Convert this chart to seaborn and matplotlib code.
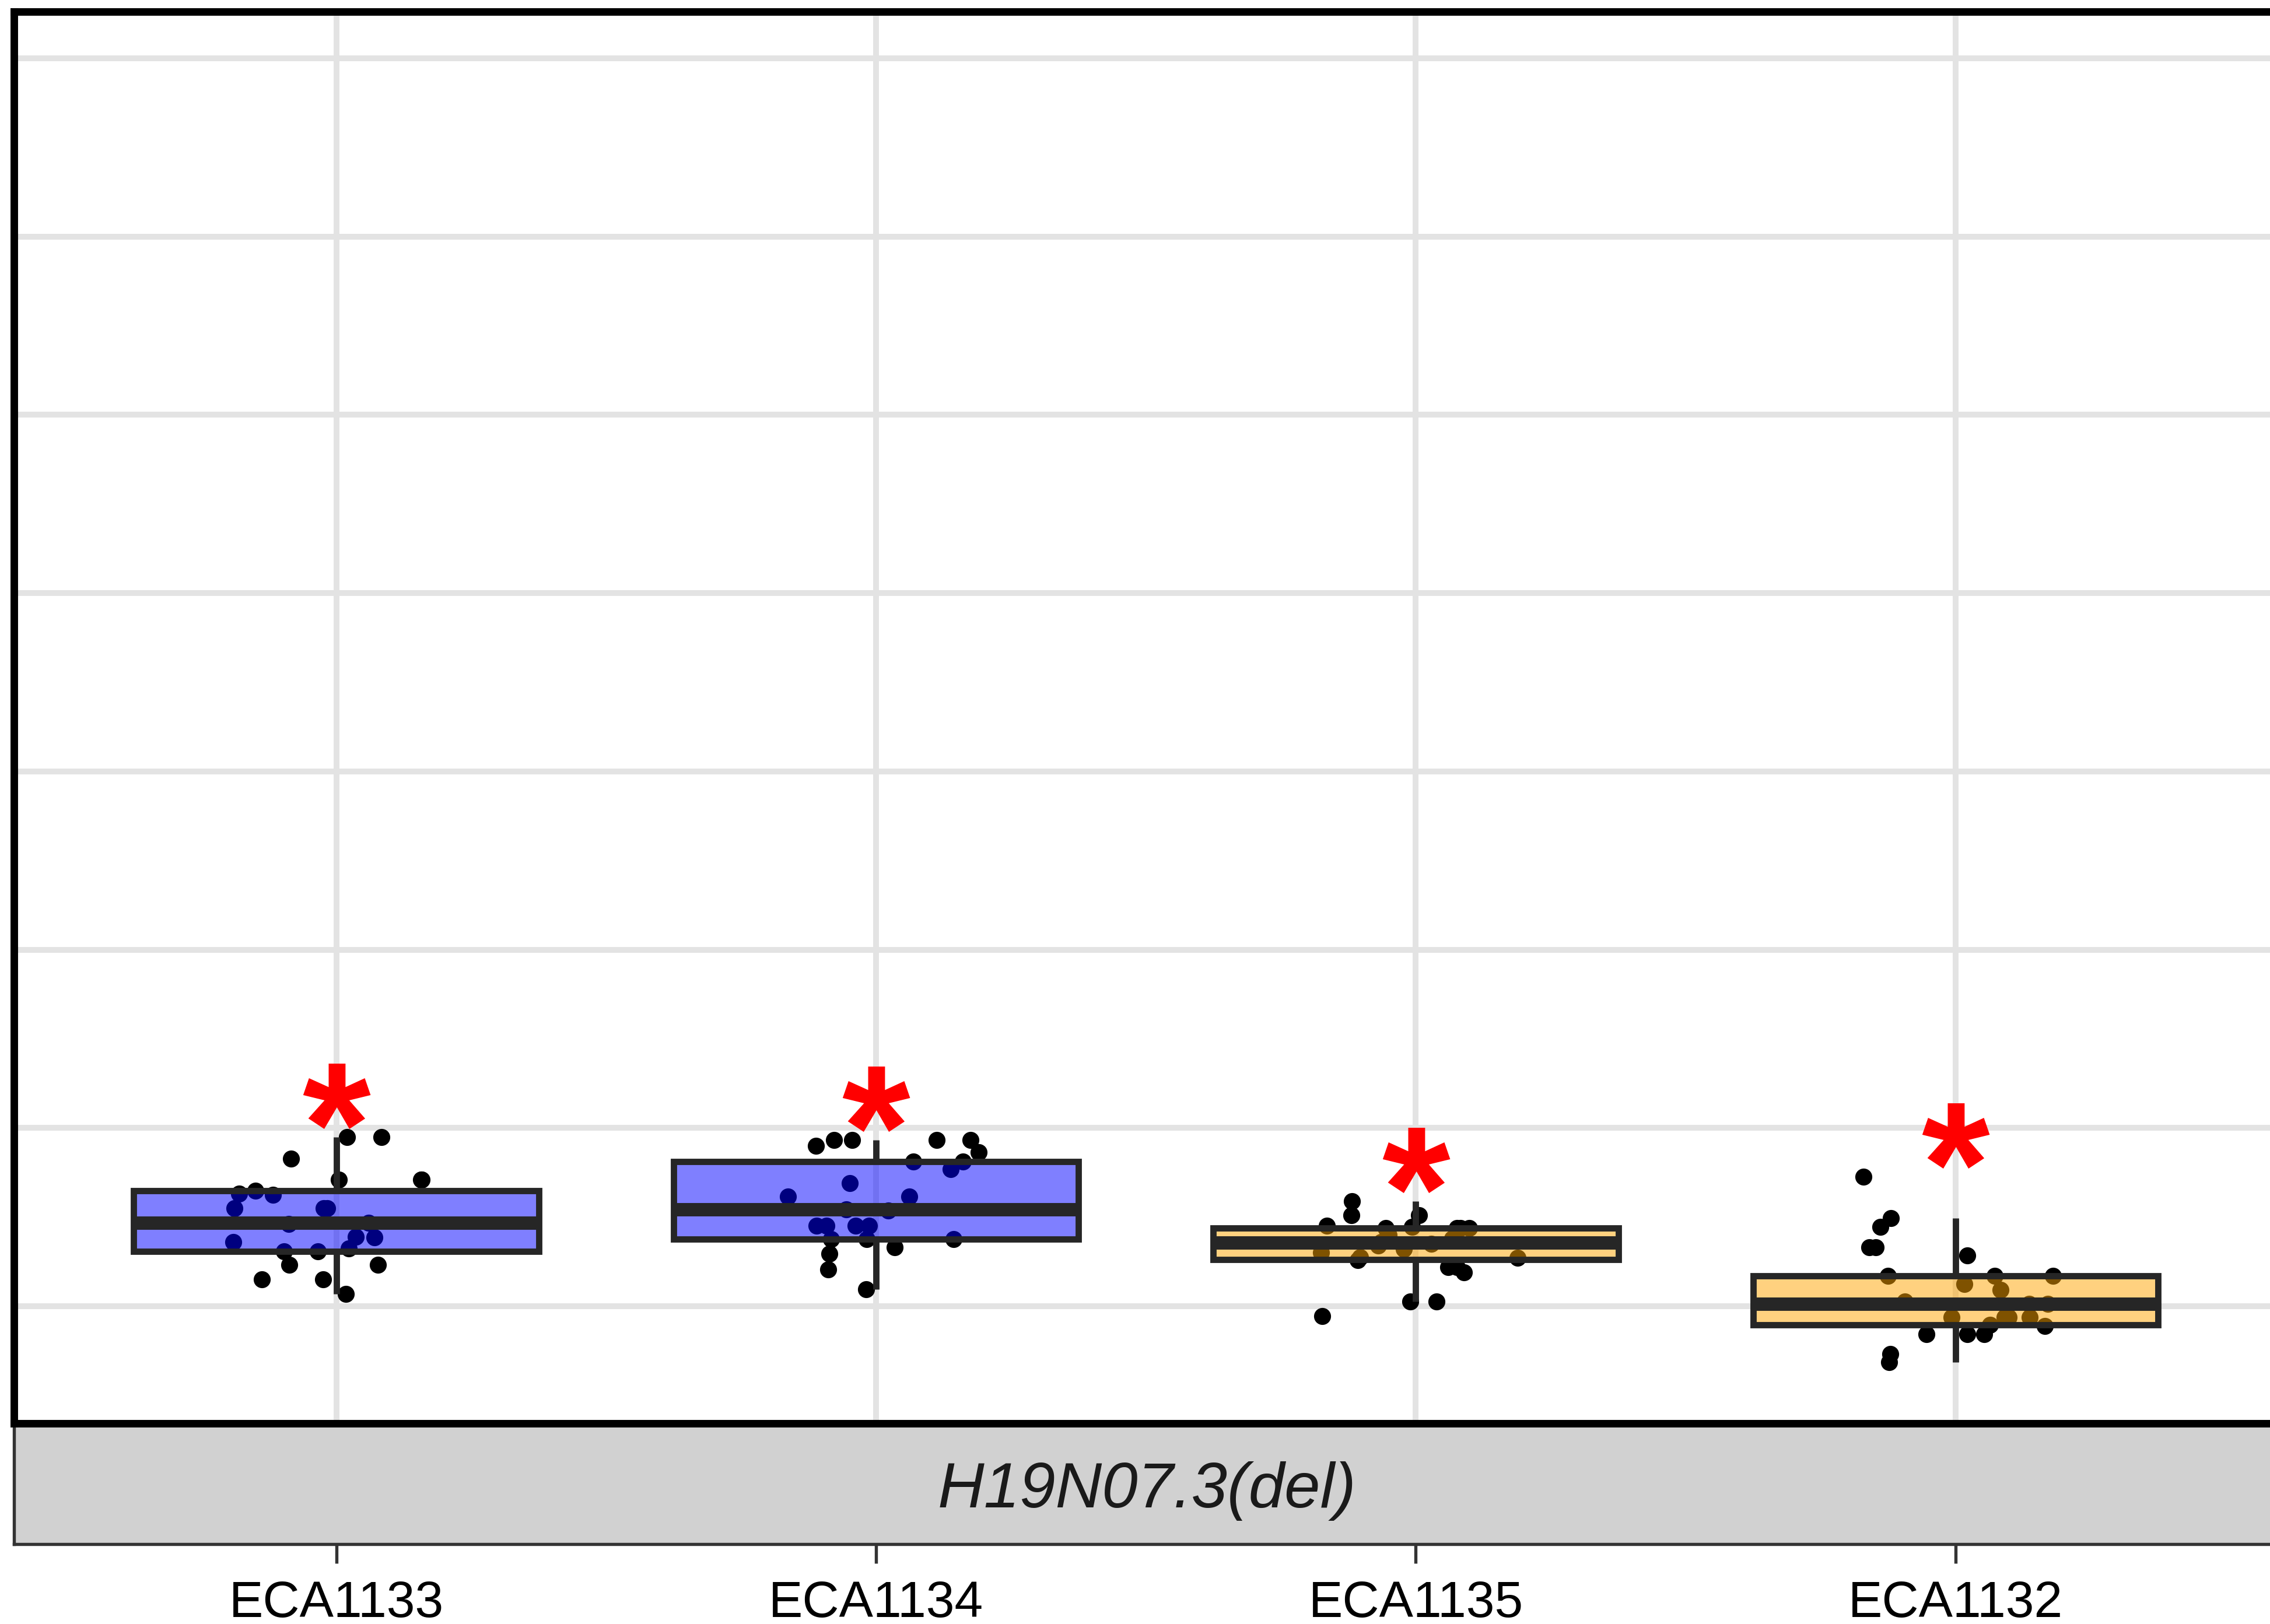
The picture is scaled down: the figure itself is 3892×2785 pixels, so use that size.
import numpy as np
import pandas as pd
import matplotlib
matplotlib.use("Agg")
import matplotlib.pyplot as plt
import seaborn as sns

# Values (y axis labels are cropped away)
strains = ["ECA1133", "ECA1134", "ECA1135", "ECA1132"]
eca1133 = [0.9475, 0.9475, 0.829, 0.71, 0.71, 0.71, 0.648, 0.625, 0.63, 0.55,
           0.55, 0.55, 0.469, 0.46, 0.3875, 0.39, 0.36, 0.325, 0.306, 0.306,
           0.231, 0.231, 0.15, 0.15, 0.069]
eca1134 = [0.931, 0.931, 0.9, 0.931, 0.931, 0.8625, 0.8125, 0.8125, 0.769, 0.691,
           0.615, 0.615, 0.535, 0.544, 0.4525, 0.4525, 0.4525, 0.4525, 0.375, 0.375,
           0.375, 0.331, 0.294, 0.206, 0.094]
eca1135 = [0.5875, 0.51, 0.51, 0.45, 0.445, 0.4375, 0.4375, 0.4375, 0.4375, 0.43,
           0.40, 0.38, 0.36, 0.35, 0.34, 0.32, 0.30, 0.275, 0.27, 0.26,
           0.22, 0.22, 0.19, 0.025, 0.025, -0.056]
eca1132 = [0.7275, 0.494, 0.444, 0.331, 0.329, 0.285, 0.169, 0.169, 0.169, 0.125,
           0.09, 0.025, 0.0125, 0.0125, -0.0625, -0.0625, -0.0625, -0.0625, -0.105, -0.1125,
           -0.156, -0.156, -0.156, -0.269, -0.3125]
strip_label = "H19N07.3(del)"

groups = {"ECA1133": eca1133, "ECA1134": eca1134, "ECA1135": eca1135, "ECA1132": eca1132}
df = pd.DataFrame([(k, v) for k, vals in groups.items() for v in vals], columns=["strain", "value"])

fills = {"ECA1133": "blue", "ECA1134": "blue", "ECA1135": "orange", "ECA1132": "orange"}

sns.set_style("white")
plt.rcParams["font.family"] = ["Liberation Sans", "DejaVu Sans"]

fig = plt.figure(figsize=(3892 / 300, 2785 / 300), dpi=300)
ax = fig.add_axes([0.00617, 0.12352, 0.998, 0.86912])
strip = fig.add_axes([0.00617, 0.04919, 0.998, 0.07433], sharex=ax)
ax.set_zorder(2)
strip.set_zorder(1)

# jittered points under the boxes
np.random.seed(3)
sns.stripplot(data=df, x="strain", y="value", order=strains, color="black",
              size=7, jitter=0.2, ax=ax, zorder=2)

sns.boxplot(data=df, x="strain", y="value", order=strains, hue="strain",
            palette=fills, saturation=1, width=0.75, linecolor="#262626",
            linewidth=2.6, showfliers=False, showcaps=False,
            medianprops=dict(linewidth=5.5), legend=False, ax=ax)

for p in ax.patches:
    fc = p.get_facecolor()
    p.set_facecolor((fc[0], fc[1], fc[2], 0.5))
    p.set_zorder(3)
for l in ax.lines:
    l.set_zorder(4)

# significance stars above each group
for i, s in enumerate(strains):
    ax.text(i, max(groups[s]) - 0.01, "*", color="red", fontsize=72,
            fontweight="bold", ha="center", va="center", zorder=5)

ax.set_xlim(-0.597, 3.6)
ax.set_ylim(-0.6575, 7.26)
ax.set_yticks(range(0, 8))
ax.set_xticks(range(len(strains)))
ax.grid(True, color="#E3E3E3", linewidth=2.4)
ax.set_axisbelow(True)
ax.tick_params(length=0, labelleft=False, labelbottom=False)
ax.set_xlabel("")
ax.set_ylabel("")
for sp in ax.spines.values():
    sp.set_visible(True)
    sp.set_color("black")
    sp.set_linewidth(3.1)

# facet strip below the panel
strip.set_facecolor("#D1D1D1")
strip.set_yticks([])
strip.set_xticks(range(len(strains)))
strip.set_xticklabels(strains)
strip.tick_params(axis="x", bottom=True, length=7.9, width=1.3, color="#333333",
                  pad=7, labelsize=21, labelcolor="black")
for sp in strip.spines.values():
    sp.set_visible(True)
    sp.set_color("#333333")
    sp.set_linewidth(1.3)
strip.text(0.5, 0.44, strip_label, transform=strip.transAxes, ha="center",
           va="center", fontsize=26.5, style="italic", color="#1A1A1A")

fig.savefig("out.png", dpi=300)
